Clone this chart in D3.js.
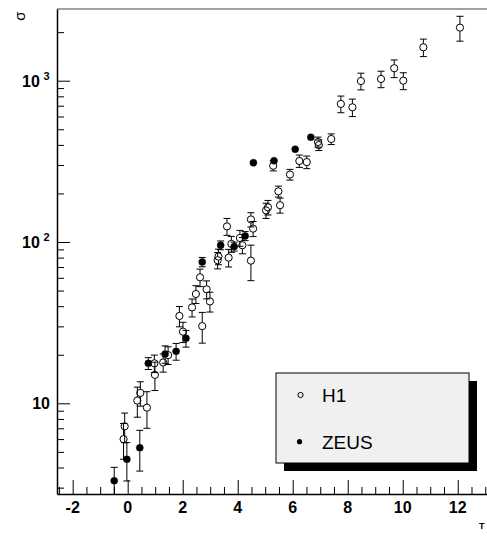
<!DOCTYPE html>
<html>
<head>
<meta charset="utf-8">
<script src="https://cdn.jsdelivr.net/npm/d3@7"></script>
<style>
  body { margin: 0; background: #fff; }
  svg { display: block; font-family: "Liberation Sans", Arial, Helvetica, sans-serif; }
</style>
</head>
<body>
<script>
// H1 points (open circles)
const h1X   = [-0.15, -0.11, 0.35, 0.46, 0.70, 0.99, 0.97, 1.29, 1.47, 1.88, 2.01, 2.34, 2.48, 2.99, 2.87, 2.63, 2.71,
               3.27, 3.30, 3.61, 3.77, 3.67, 4.08, 4.17, 4.48, 4.48, 4.56, 5.03, 5.10, 5.54, 5.48, 5.29, 5.90,
               6.24, 6.51, 6.92, 6.95, 7.40, 7.75, 8.17, 8.48, 9.21, 9.69, 10.02, 10.75, 12.08];
const h1Y   = [6.0, 7.2, 10.4, 11.6, 9.4, 15.0, 17.7, 17.9, 19.9, 34.8, 27.8, 39.3, 47.6, 42.8, 50.9, 60.4, 30.1,
               77.1, 81.3, 125, 97.3, 80.0, 106, 95.5, 76.6, 138, 121, 157, 164, 169, 206, 297, 262,
               318, 313, 417, 399, 435, 718, 684, 995, 1025, 1195, 1000, 1611, 2133];
const h1Err = [1.5, 1.5, 2.2, 2.0, 2.4, 3.0, 2.2, 2.3, 2.5, 5.0, 4.0, 5.0, 6.0, 6.0, 6.5, 7.5, 6.5,
               9, 9, 15, 11, 10, 12, 11, 19, 14, 13, 17, 17, 18, 16, 21, 20,
               28, 28, 30, 30, 33, 85, 85, 118, 120, 150, 120, 200, 375];

// ZEUS points (filled circles)
const zeusX   = [-0.49, -0.03, 0.44, 0.75, 1.36, 1.76, 2.12, 2.71, 3.38, 3.87, 4.27, 4.57, 5.32, 6.09, 6.66];
const zeusY   = [3.31, 4.50, 5.30, 17.7, 20.2, 21.0, 25.3, 75.2, 95.5, 93.8, 109, 310, 319, 376, 446];
const zeusErr = [0.7, 1.2, 1.5, 1.5, 2.5, 2.5, 3.0, 5, 6, 6, 7, 15, 15, 18, 20];

// ticks
const xTickLabels = [-2, 0, 2, 4, 6, 8, 10, 12];
const yTickLabels = [10, 100, 1000];
const legendNames = ["H1", "ZEUS"];

const w = 487;
const h = 536;
const padL = 57, padT = 9, padB = 494, padR = 499;

const xScale = d3.scaleLinear().domain([-2.57, 13.5]).range([padL, padR]);
const yScale = d3.scaleLog().domain([2.74, 2783]).range([padB, padT]);

const svg = d3.select('body').append('svg')
    .attr('width', w)
    .attr('height', h);

svg.append('rect').attr('width', w).attr('height', h).attr('fill', '#fff');

svg.append('clipPath').attr('id', 'plotclip')
   .append('rect')
   .attr('x', padL).attr('y', padT)
   .attr('width', padR - padL).attr('height', padB - padT);

// frame
svg.append('line')
   .attr('x1', padL).attr('x2', padR).attr('y1', padT).attr('y2', padT)
   .attr('stroke', '#444').attr('stroke-width', 1.2);

// x axis, ticks pointing up
const xMinor = d3.range(-2.5, 13.01, 0.5);
const xAxis = d3.axisBottom(xScale)
    .tickValues(xMinor)
    .tickSize(0)
    .tickFormat('');
const gx = svg.append('g')
   .attr('transform', `translate(0, ${padB})`)
   .attr('id', 'x-axis')
   .call(xAxis);
gx.select('.domain').attr('stroke', '#000').attr('stroke-width', 1.5);
gx.selectAll('.tick line')
  .attr('y2', d => (Math.abs(d % 2) < 1e-6 ? -14 : -7))
  .attr('stroke', '#000');

svg.append('g')
   .selectAll('text')
   .data(xTickLabels)
   .enter()
   .append('text')
   .attr('x', d => xScale(d))
   .attr('y', 513)
   .attr('text-anchor', 'middle')
   .style('font-size', '16px')
   .style('font-weight', 'bold')
   .text(d => d);

// y axis, ticks pointing right
const yMinor = [];
[1, 10, 100, 1000].forEach(dec => {
    for (let k = 1; k < 10; k++) {
        const v = dec * k;
        if (v >= 2.74 && v <= 2783) yMinor.push(v);
    }
});
const yAxis = d3.axisLeft(yScale)
    .tickValues(yMinor)
    .tickSize(0)
    .tickFormat('');
const gy = svg.append('g')
   .attr('transform', `translate(${padL}, 0)`)
   .attr('id', 'y-axis')
   .call(yAxis);
gy.select('.domain').attr('stroke', '#000').attr('stroke-width', 1.5);
gy.selectAll('.tick line')
  .attr('x2', d => (yTickLabels.includes(d) ? 13 : 7))
  .attr('stroke', '#000');

// y labels: 10, 10^2, 10^3
const yLab = svg.append('g');
yTickLabels.forEach(v => {
    const py = yScale(v);
    const e = Math.round(Math.log10(v));
    const t = yLab.append('text')
        .attr('y', py + 6)
        .style('font-size', '16px')
        .style('font-weight', 'bold');
    if (e === 1) {
        t.attr('x', 50).attr('text-anchor', 'end').text('10');
    } else {
        t.attr('x', 22).text('10');
        yLab.append('text')
            .attr('x', 43.5)
            .attr('y', py - 1)
            .style('font-size', '11px')
            .style('font-weight', 'bold')
            .text(e);
    }
});

// axis titles (only a corner of each shows in the original)
svg.append('text')
   .attr('transform', 'translate(25, 16) rotate(-90)')
   .attr('text-anchor', 'middle')
   .style('font-size', '15px')
   .text('σ');
svg.append('text')
   .attr('x', 479)
   .attr('y', 529)
   .style('font-size', '9px')
   .style('font-weight', 'bold')
   .text('T');

// error bars + markers
const r = 3.6;
const cap = 3.5;
const plot = svg.append('g').attr('clip-path', 'url(#plotclip)');

function drawSeries(xs, ys, errs, filled) {
    const pts = xs.map((x, i) => ({x: x, y: ys[i], e: errs[i]}));
    const g = plot.append('g');

    pts.forEach(d => {
        const px = xScale(d.x);
        const py = yScale(d.y);
        const pUp = yScale(d.y + d.e);
        const pLo = yScale(Math.max(d.y - d.e, 0.01));
        if (pUp < py - r) {
            g.append('line').attr('x1', px).attr('x2', px).attr('y1', py - r).attr('y2', pUp)
             .attr('stroke', '#000');
            g.append('line').attr('x1', px - cap).attr('x2', px + cap).attr('y1', pUp).attr('y2', pUp)
             .attr('stroke', '#000');
        }
        if (pLo > py + r) {
            g.append('line').attr('x1', px).attr('x2', px).attr('y1', py + r).attr('y2', pLo)
             .attr('stroke', '#000');
            g.append('line').attr('x1', px - cap).attr('x2', px + cap).attr('y1', pLo).attr('y2', pLo)
             .attr('stroke', '#000');
        }
    });

    g.selectAll('circle')
     .data(pts)
     .enter()
     .append('circle')
     .attr('cx', d => xScale(d.x))
     .attr('cy', d => yScale(d.y))
     .attr('r', filled ? 3.5 : r)
     .attr('fill', filled ? '#000' : 'none')
     .attr('stroke', '#000')
     .attr('stroke-width', filled ? 0.5 : 1);
}

drawSeries(h1X, h1Y, h1Err, false);
drawSeries(zeusX, zeusY, zeusErr, true);

// legend with shadow
const lg = svg.append('g');
lg.append('rect')
  .attr('x', 284).attr('y', 381).attr('width', 193).attr('height', 90)
  .attr('fill', '#000');
lg.append('rect')
  .attr('x', 276).attr('y', 373).attr('width', 193).attr('height', 90)
  .attr('fill', '#f0f0f0').attr('stroke', '#000').attr('stroke-width', 1);

lg.append('circle')
  .attr('cx', 300.5).attr('cy', 395).attr('r', 2.6)
  .attr('fill', 'none').attr('stroke', '#000');
lg.append('circle')
  .attr('cx', 299.5).attr('cy', 441.7).attr('r', 2.6)
  .attr('fill', '#000');

lg.selectAll('text.leg')
  .data(legendNames)
  .enter()
  .append('text')
  .attr('class', 'leg')
  .attr('x', 322)
  .attr('y', (d, i) => 402 + i * 47)
  .style('font-size', '19px')
  .text(d => d);
</script>
</body>
</html>
